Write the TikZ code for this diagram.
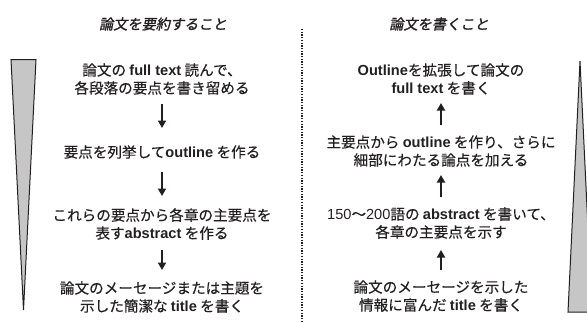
\documentclass[tikz,border=0pt]{standalone}
\usepackage{fontspec}
\setmainfont{Noto Sans CJK JP}[FakeBold=0.35]
\newfontfamily\latf{Liberation Sans}
\newfontfamily\titlef{Noto Sans CJK JP}[FakeSlant=0.2,FakeBold=1.3]
\usetikzlibrary{arrows.meta}
\newcommand\B[1]{{\latf\bfseries #1}}
\newcommand\N[1]{{\latf #1}}
\definecolor{ink}{HTML}{231F20}
\definecolor{wedge}{HTML}{C6C6C6}
\tikzset{
  txt/.style={align=center, text=ink, inner sep=0pt, font=\fontsize{14.6}{18}\selectfont},
  ttl/.style={text=ink, inner sep=0pt, font=\titlef\fontsize{14.2}{18}\selectfont},
  arr/.style={draw=ink, line width=2pt, -{Triangle[length=7.5pt,width=8pt]}},
  wedgebox/.style={fill=wedge, draw=ink, line width=1pt, line join=miter},
  divider/.style={draw=ink, line width=1.3pt, dash pattern=on 1.3pt off 1.4pt}
}
\begin{document}
\begin{tikzpicture}[x=1pt,y=-1pt]
\useasboundingbox (0,0) rectangle (587,322);
\clip (0,0) rectangle (587,322);
% wedges
\draw[wedgebox] (11,59.5) -- (36,59.5) -- (23.5,310) -- cycle;
\draw[wedgebox] (580,61) -- (592,312) -- (568,312) -- cycle;
% divider
\coordinate (dtop) at (302,29);
\coordinate (dbot) at (302,322);
\draw[divider] (dtop) -- (dbot);
% titles
\node[ttl] (tl) at (163,24) {論文を要約すること};
\node[ttl] (tr) at (439,24) {論文を書くこと};
% left column
\node[txt] (L1) at (162,79) {論文の \B{full text} 読んで、\\各段落の要点を書き留める};
\node[txt] (L2) at (162,152) {要点を列挙して\B{outline} を作る};
\node[txt] (L3) at (162,224) {これらの要点から各章の主要点を\\表す\B{abstract} を作る};
\node[txt] (L4) at (162,297) {論文のメーセージまたは主題を\\示した簡潔な \B{title} を書く};
\coordinate (la1) at (162,104); \coordinate (lb1) at (162,128);
\coordinate (la2) at (162,172); \coordinate (lb2) at (162,196);
\coordinate (la3) at (162,250); \coordinate (lb3) at (162,270);
\draw[arr] (la1) -- (lb1);
\draw[arr] (la2) -- (lb2);
\draw[arr] (la3) -- (lb3);
% right column
\node[txt] (R1) at (441,79) {\B{Outline}を拡張して論文の\\\B{full text} を書く};
\node[txt] (R2) at (441,151) {主要点から \B{outline} を作り、さらに\\細部にわたる論点を加える};
\node[txt] (R3) at (441,223) {\N{150}〜\N{200}語の \B{abstract} を書いて、\\各章の主要点を示す};
\node[txt] (R4) at (441,296) {論文のメーセージを示した\\情報に富んだ \B{title} を書く};
\coordinate (ra1) at (441,125); \coordinate (rb1) at (441,103);
\coordinate (ra2) at (441,197); \coordinate (rb2) at (441,175);
\coordinate (ra3) at (441,270); \coordinate (rb3) at (441,250);
\draw[arr] (ra1) -- (rb1);
\draw[arr] (ra2) -- (rb2);
\draw[arr] (ra3) -- (rb3);
\end{tikzpicture}
\end{document}
